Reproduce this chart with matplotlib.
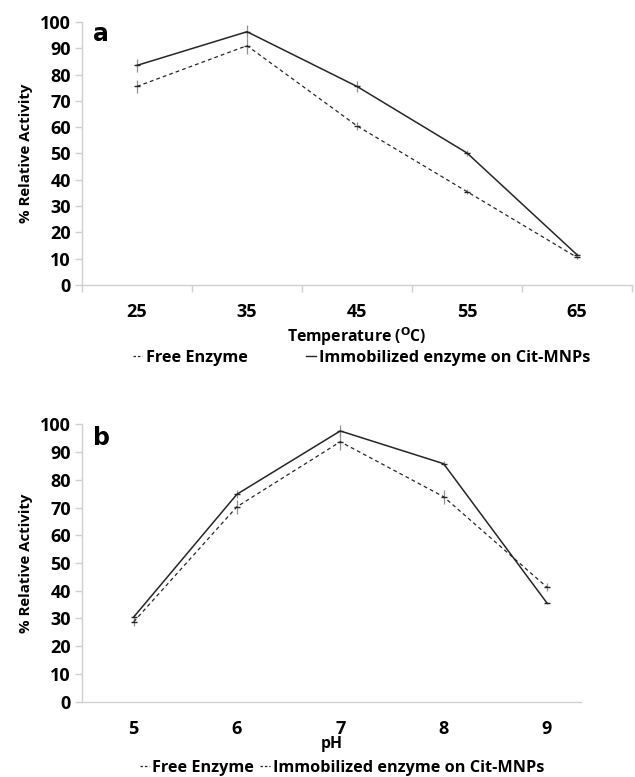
import matplotlib
matplotlib.use("Agg")
import matplotlib.pyplot as plt
from matplotlib.lines import Line2D

plt.rcParams['font.family'] = ['Open Sans', 'DejaVu Sans']

# panel a - temperature
temp_labels = ["25", "35", "45", "55", "65"]
temp_free = [75.5, 91, 60.5, 35.5, 10.5]
temp_free_err = [2.5, 3, 1.5, 1, 0.5]
temp_immob = [83.5, 96.3, 75.5, 50.2, 11.5]
temp_immob_err = [2.5, 2.5, 2, 1, 0.5]

# panel b - pH
ph_labels = ["5", "6", "7", "8", "9"]
ph_free = [28.8, 70.3, 93.7, 73.9, 41.3]
ph_free_err = [1.5, 2.5, 3, 2.5, 1.5]
ph_immob = [30.5, 74.8, 97.6, 85.8, 35.6]
ph_immob_err = [1, 1.5, 2, 1, 0.5]

free_name = "Free Enzyme"
immob_name = "Immobilized enzyme on Cit-MNPs"

AXIS_GREY = "#d0d0d0"
LINE = "#262626"
ERR = "#909090"
DASH = (0, (3, 2.5))

fig = plt.figure(figsize=(6.35, 7.77), dpi=100)
ax_a = fig.add_axes([82 / 635, 1 - 285 / 777, 550 / 635, 263 / 777])
ax_b = fig.add_axes([82 / 635, 1 - 701.7 / 777, 499 / 635, 277.4 / 777])


def draw_panel(ax, labels, free, free_err, immob, immob_err, xmax, cat_ticks):
    x = list(range(len(labels)))
    ax.errorbar(x, free, yerr=free_err, color=LINE, lw=0.9, ls=DASH,
                ecolor=ERR, elinewidth=0.9, capsize=0,
                marker='_', ms=4)
    ax.errorbar(x, immob, yerr=immob_err, color=LINE, lw=1.1, ls='-',
                ecolor=ERR, elinewidth=0.9, capsize=0,
                marker='_', ms=4)
    ax.set_ylim(0, 100)
    ax.set_xlim(-0.5, xmax)
    ax.set_yticks(range(0, 101, 10))
    ax.set_xticks(x)
    ax.set_xticklabels(labels)
    for s in ["top", "right"]:
        ax.spines[s].set_visible(False)
    for s in ["left", "bottom"]:
        ax.spines[s].set_color(AXIS_GREY)
        ax.spines[s].set_linewidth(1.0)
    ax.tick_params(axis='y', colors=AXIS_GREY, length=5, width=1.0,
                   labelcolor='black', labelsize=13, pad=3)
    ax.tick_params(axis='x', length=0, labelsize=13, pad=13)
    for t in ax.get_xticklabels() + ax.get_yticklabels():
        t.set_fontweight('bold')
    if cat_ticks:
        ax.set_xticks([i + 0.5 for i in range(-1, len(labels))], minor=True)
        ax.tick_params(axis='x', which='minor', colors=AXIS_GREY,
                       length=5, width=1.0, direction='out')
    ax.set_ylabel("% Relative Activity", fontsize=10.8, fontweight='bold', labelpad=5)


draw_panel(ax_a, temp_labels, temp_free, temp_free_err, temp_immob, temp_immob_err,
           4.5, True)
draw_panel(ax_b, ph_labels, ph_free, ph_free_err, ph_immob, ph_immob_err,
           4.33, False)

ax_a.set_xlabel("Temperature ($\\mathbf{^{O}}$C)", fontsize=11.3, fontweight='bold',
                labelpad=3)
ax_b.set_xlabel("pH", fontsize=11.3, fontweight='bold', labelpad=-1)

ax_a.text(0.02, 0.955, "a", transform=ax_a.transAxes, fontsize=17,
          fontweight='bold', family='DejaVu Sans', va='center')
ax_b.text(0.022, 0.95, "b", transform=ax_b.transAxes, fontsize=17,
          fontweight='bold', family='DejaVu Sans', va='center')

dash_h = Line2D([], [], color=LINE, lw=0.9, ls=(0, (2, 1.5)))
solid_h = Line2D([], [], color=LINE, lw=1.0, ls='-')
leg_kw = dict(ncol=2, frameon=False, handlelength=0.6, handletextpad=0.2,
              prop={'size': 11.7, 'weight': 'bold'}, borderaxespad=0)
ax_a.legend([dash_h, solid_h], [free_name, immob_name], loc='center left',
            bbox_to_anchor=(44 / 550, -73 / 263),
            columnspacing=3.6, **leg_kw)
ax_b.legend([dash_h, dash_h], [free_name, immob_name], loc='center left',
            bbox_to_anchor=(51 / 499, -66 / 277.4),
            columnspacing=0.35, **leg_kw)

fig.savefig("out.png", dpi=100, facecolor='white')
